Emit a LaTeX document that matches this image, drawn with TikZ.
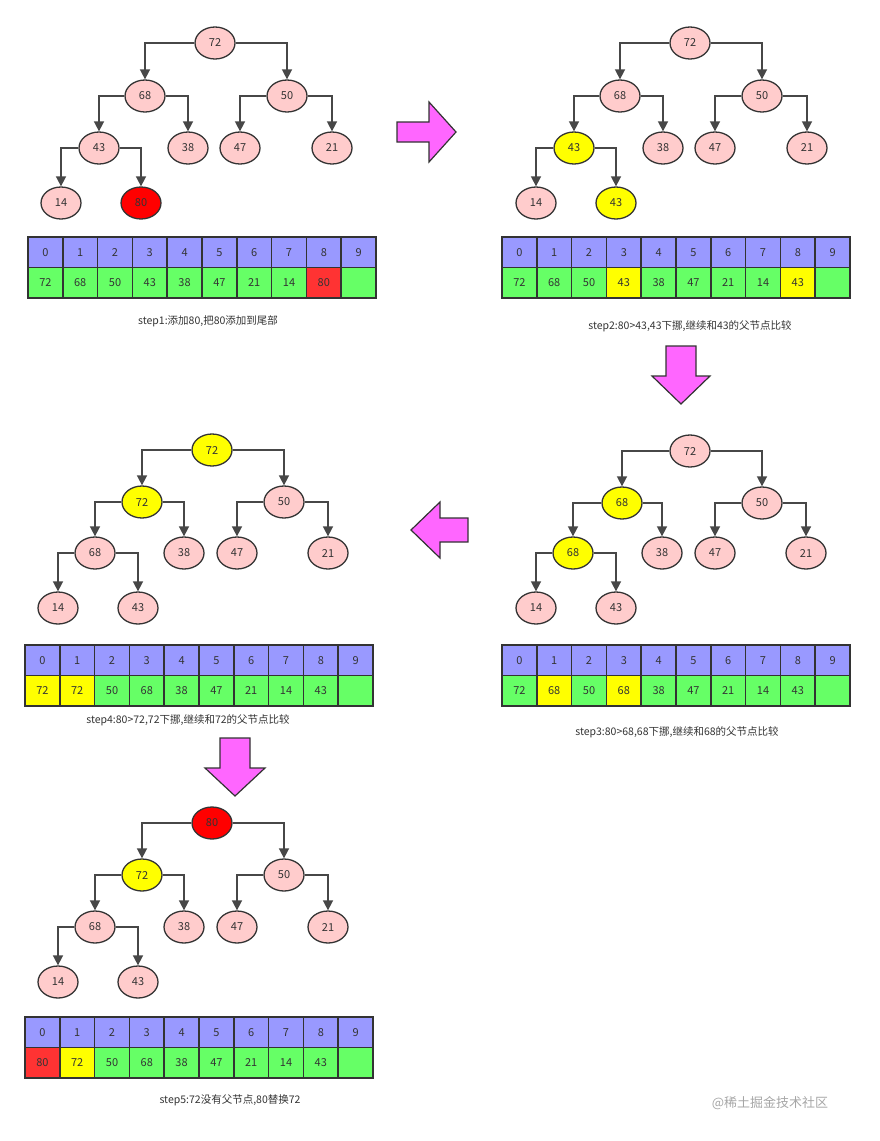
\documentclass[tikz,border=0pt]{standalone}
\usepackage{fontspec}
\setmainfont{Noto Sans CJK SC}
\usetikzlibrary{arrows.meta,shapes.geometric}
\definecolor{pk}{HTML}{FFCCCC}
\definecolor{nred}{HTML}{FF0000}
\definecolor{ared}{HTML}{FF3333}
\definecolor{yl}{HTML}{FFFF00}
\definecolor{gr}{HTML}{66FF66}
\definecolor{bl}{HTML}{9999FF}
\definecolor{mg}{HTML}{FF66FF}
\definecolor{tx}{HTML}{333333}
\tikzset{
 hn/.style={ellipse,draw=tx,line width=1.3pt,minimum width=40pt,minimum height=32pt,inner sep=0pt,font=\fontsize{11}{11}\selectfont,text=tx},
 edge/.style={draw=tx!90,line width=1.6pt,-{Triangle[length=10pt,width=10pt]}},
 cell/.style={draw=tx,line width=1.5pt,minimum width=34.8pt,minimum height=30.5pt,inner sep=0pt,font=\fontsize{11}{11}\selectfont,text=tx},
 captxt/.style={font=\fontsize{10.5}{11}\selectfont,text=tx},
 fat/.style={draw=tx,line width=1.2pt,fill=mg,line join=miter}
}
\newcommand\htree[4]{%
 \begin{scope}[shift={(#2,#3)}]
 \foreach \dx/\dy/\v/\c [count=\i from 0] in {#4}
   \node[hn,fill=\c] (#1\i) at (\dx,\dy) {\v};
 \end{scope}
 \foreach \a/\b/\s in {0/1/west,0/2/east,1/3/west,1/4/east,2/5/west,2/6/east,3/7/west,3/8/east}
   \draw[edge] (#1\a.\s) -| (#1\b.north);
}
\newcommand\harr[4]{%
 \foreach \v/\c [count=\i from 0] in {#4}{
   \node[cell,fill=bl] (#1i\i) at ({#2+17.4+34.8*\i},{#3+15.25}) {\i};
   \node[cell,fill=\c] (#1v\i) at ({#2+17.4+34.8*\i},{#3+45.75}) {\v};
 }
}
\begin{document}
\begin{tikzpicture}[x=1pt,y=-1pt]
\useasboundingbox (0,0) rectangle (879,1141);
% tree 1
\htree{a}{215}{43}{0/0/72/pk,-70/53/68/pk,72/53/50/pk,-116/105/43/pk,-27/105/38/pk,25/105/47/pk,117/105/21/pk,-154/160/14/pk,-74/160/80/nred}
\harr{A}{28}{237}{72/gr,68/gr,50/gr,43/gr,38/gr,47/gr,21/gr,14/gr,80/ared,/gr}
\node[captxt] (c1) at (208,321) {step1:添加80,把80添加到尾部};
% tree 2
\htree{b}{690}{43}{0/0/72/pk,-70/53/68/pk,72/53/50/pk,-116/105/43/yl,-27/105/38/pk,25/105/47/pk,117/105/21/pk,-154/160/14/pk,-74/160/43/yl}
\harr{B}{502}{237}{72/gr,68/gr,50/gr,43/yl,38/gr,47/gr,21/gr,14/gr,43/yl,/gr}
\node[captxt] (c2) at (690,326) {step2:80>43,43下挪,继续和43的父节点比较};
% tree 3
\htree{c}{690}{451}{0/0/72/pk,-68/52/68/yl,72/52/50/pk,-117/102/68/yl,-28/102/38/pk,25/102/47/pk,116/102/21/pk,-154/157/14/pk,-74/157/43/pk}
\harr{C}{502}{645}{72/gr,68/yl,50/gr,68/yl,38/gr,47/gr,21/gr,14/gr,43/gr,/gr}
\node[captxt] (c3) at (677,732) {step3:80>68,68下挪,继续和68的父节点比较};
% tree 4
\htree{d}{212}{450}{0/0/72/yl,-70/52/72/yl,72/52/50/pk,-117/103/68/pk,-28/103/38/pk,25/103/47/pk,116/103/21/pk,-154/158/14/pk,-74/158/43/pk}
\harr{D}{25}{645}{72/yl,72/yl,50/gr,68/gr,38/gr,47/gr,21/gr,14/gr,43/gr,/gr}
\node[captxt] (c4) at (188,720) {step4:80>72,72下挪,继续和72的父节点比较};
% tree 5
\htree{e}{212}{823}{0/0/80/nred,-70/52/72/yl,72/52/50/pk,-117/104/68/pk,-28/104/38/pk,25/104/47/pk,116/104/21/pk,-154/159/14/pk,-74/159/43/pk}
\harr{E}{25}{1017}{80/ared,72/yl,50/gr,68/gr,38/gr,47/gr,21/gr,14/gr,43/gr,/gr}
\node[captxt] (c5) at (230,1100) {step5:72没有父节点,80替换72};
% fat arrows
\draw[fat] (397,122)--(429,122)--(429,102)--(456,132)--(429,162)--(429,142)--(397,142)--cycle;
\draw[fat] (666,346)--(696,346)--(696,376)--(710,376)--(681,404)--(652,376)--(666,376)--cycle;
\draw[fat] (468,518)--(440,518)--(440,502)--(411,530)--(440,558)--(440,542)--(468,542)--cycle;
\draw[fat] (220,738)--(250,738)--(250,768)--(265,768)--(235,796)--(205,768)--(220,768)--cycle;
\node[font=\fontsize{13}{13}\selectfont,text=gray!70] (wm) at (770,1103) {@稀土掘金技术社区};
\end{tikzpicture}
\end{document}
